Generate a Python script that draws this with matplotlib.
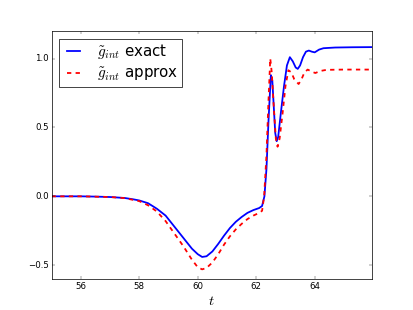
import matplotlib
matplotlib.use("Agg")
import matplotlib.pyplot as plt

# exact curve
t_exact = [55.0, 56.0, 56.5, 57.0, 57.5, 57.8, 58.0, 58.3, 58.6, 58.9, 59.2, 59.5,
           59.8, 60.0, 60.15, 60.3, 60.5, 60.7, 60.9, 61.1, 61.3, 61.5, 61.7, 61.9,
           62.1, 62.2, 62.28, 62.35, 62.42, 62.5, 62.55, 62.6, 62.65, 62.7, 62.75,
           62.85, 62.95, 63.05, 63.15, 63.25, 63.35, 63.42, 63.5, 63.6, 63.7, 63.8,
           63.9, 64.0, 64.15, 64.3, 64.7, 65.3, 65.95]
g_exact = [0.0, 0.0, -0.002, -0.005, -0.012, -0.022, -0.03, -0.05, -0.09, -0.14, -0.22, -0.30,
           -0.38, -0.42, -0.44, -0.435, -0.40, -0.345, -0.285, -0.23, -0.185, -0.15, -0.12, -0.10,
           -0.085, -0.07, 0.0, 0.2, 0.55, 0.88, 0.84, 0.65, 0.46, 0.40, 0.43,
           0.62, 0.80, 0.95, 1.01, 0.98, 0.935, 0.925, 0.95, 1.01, 1.05, 1.058,
           1.05, 1.045, 1.065, 1.075, 1.08, 1.082, 1.083]

# approximate curve
t_approx = [55.0, 56.0, 57.0, 57.5, 58.0, 58.3, 58.6, 58.9, 59.2, 59.5, 59.8, 60.0,
            60.15, 60.3, 60.5, 60.7, 60.9, 61.1, 61.3, 61.5, 61.7, 61.9, 62.1, 62.2,
            62.27, 62.35, 62.42, 62.48, 62.53, 62.6, 62.67, 62.73, 62.8, 62.9, 63.0,
            63.1, 63.2, 63.3, 63.45, 63.55, 63.65, 63.76, 63.9, 64.02, 64.2, 64.4,
            65.0, 65.95]
g_approx = [0.0, 0.0, -0.005, -0.013, -0.035, -0.065, -0.11, -0.18, -0.27, -0.36, -0.46, -0.515,
            -0.53, -0.52, -0.48, -0.42, -0.35, -0.29, -0.24, -0.20, -0.165, -0.14, -0.12, -0.105,
            0.0, 0.3, 0.7, 1.0, 0.9, 0.65, 0.42, 0.36, 0.42, 0.6, 0.8,
            0.915, 0.9, 0.85, 0.815, 0.85, 0.9, 0.92, 0.905, 0.895, 0.91, 0.918,
            0.92, 0.92]

plt.style.use("classic")
fig = plt.figure(figsize=(8, 6.005), dpi=51.625)
ax = fig.add_subplot(111)

ax.plot(t_exact, g_exact, "b-", lw=2.5, label=r"$\tilde{g}_{int}$ exact")
ax.plot(t_approx, g_approx, "r--", lw=2.5, label=r"$\tilde{g}_{int}$ approx")

ax.set_xlim(55, 65.95)
ax.set_ylim(-0.6, 1.2)
ax.set_xticks([56, 58, 60, 62, 64])
ax.set_yticks([-0.5, 0.0, 0.5, 1.0])
ax.set_xlabel(r"$t$", fontsize=20)
ax.legend(loc="upper left", fontsize=21, handlelength=1.45, labelspacing=0.3,
          borderpad=0.25)

fig.savefig("out.png", dpi=51.625)
